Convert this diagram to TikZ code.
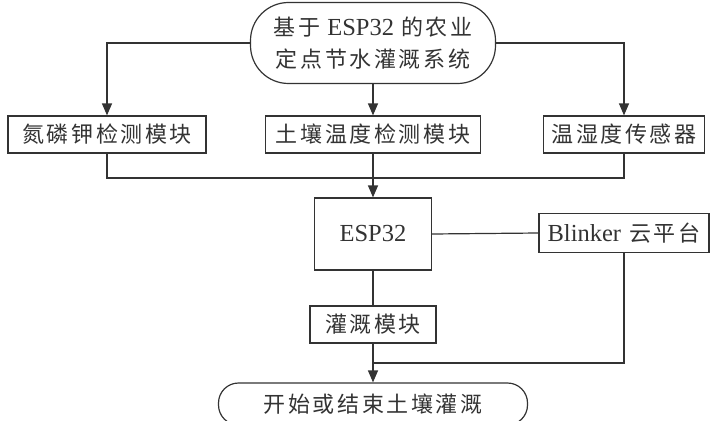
\documentclass[tikz,border=0pt]{standalone}
\usepackage{fontspec}
\setmainfont{Liberation Serif}
\newfontfamily\cjk[LetterSpace=12]{Noto Sans CJK SC}
\newcommand\latsz{\fontsize{24.5}{32}\selectfont}
\usetikzlibrary{arrows.meta}
\definecolor{ink}{HTML}{333333}
\begin{document}
\begin{tikzpicture}[x=1pt,y=-1pt,
  every node/.style={text=ink},
  box/.style={draw=ink,line width=1.2pt,fill=white,inner sep=0pt,
    font=\fontsize{22}{32}\selectfont},
  conn/.style={draw=ink,line width=1.2pt},
  arr/.style={conn,-{Triangle[length=12pt,width=10pt]}}]
\useasboundingbox (0,0) rectangle (714,420);
\node[box,rounded corners=38pt,minimum width=245pt,minimum height=81pt,align=center]
  (top) at (373,43) {{\cjk 基于}\hspace{7pt}{\latsz ESP32}\hspace{7pt}{\cjk 的农业}\\{\cjk 定点节水灌溉系统}};
\node[box,minimum width=198pt,minimum height=37pt] (b1) at (107,134.5) {\cjk 氮磷钾检测模块};
\node[box,minimum width=215pt,minimum height=37pt] (b2) at (373,134.5) {\cjk 土壤温度检测模块};
\node[box,minimum width=161pt,minimum height=37pt] (b3) at (624,134.5) {\cjk 温湿度传感器};
\node[box,minimum width=117pt,minimum height=72pt] (esp) at (373,234) {\latsz ESP32};
\node[box,minimum width=170pt,minimum height=39pt] (bl) at (624,233) {{\latsz Blinker}\hspace{8pt}{\cjk 云平台}};
\node[box,minimum width=126pt,minimum height=37pt] (irr) at (373,324.5) {\cjk 灌溉模块};
\node[box,rounded corners=20pt,minimum width=309pt,minimum height=42pt] (end) at (373,404) {\cjk 开始或结束土壤灌溉};
\coordinate (jl) at (107,178);
\coordinate (jr) at (624,178);
\coordinate (jb) at (373,363);
\draw[arr] (top.west) -| (b1.north);
\draw[arr] (top.east) -| (b3.north);
\draw[arr] (top.south) -- (b2.north);
\draw[conn] (b1.south) -- (jl) -- (jr) -- (b3.south);
\draw[arr] (b2.south) -- (esp.north);
\draw[conn] (esp.east) -- (bl.west);
\draw[conn] (esp.south) -- (irr.north);
\draw[conn] (bl.south) |- (jb);
\draw[arr] (irr.south) -- (end.north);
\end{tikzpicture}
\end{document}
